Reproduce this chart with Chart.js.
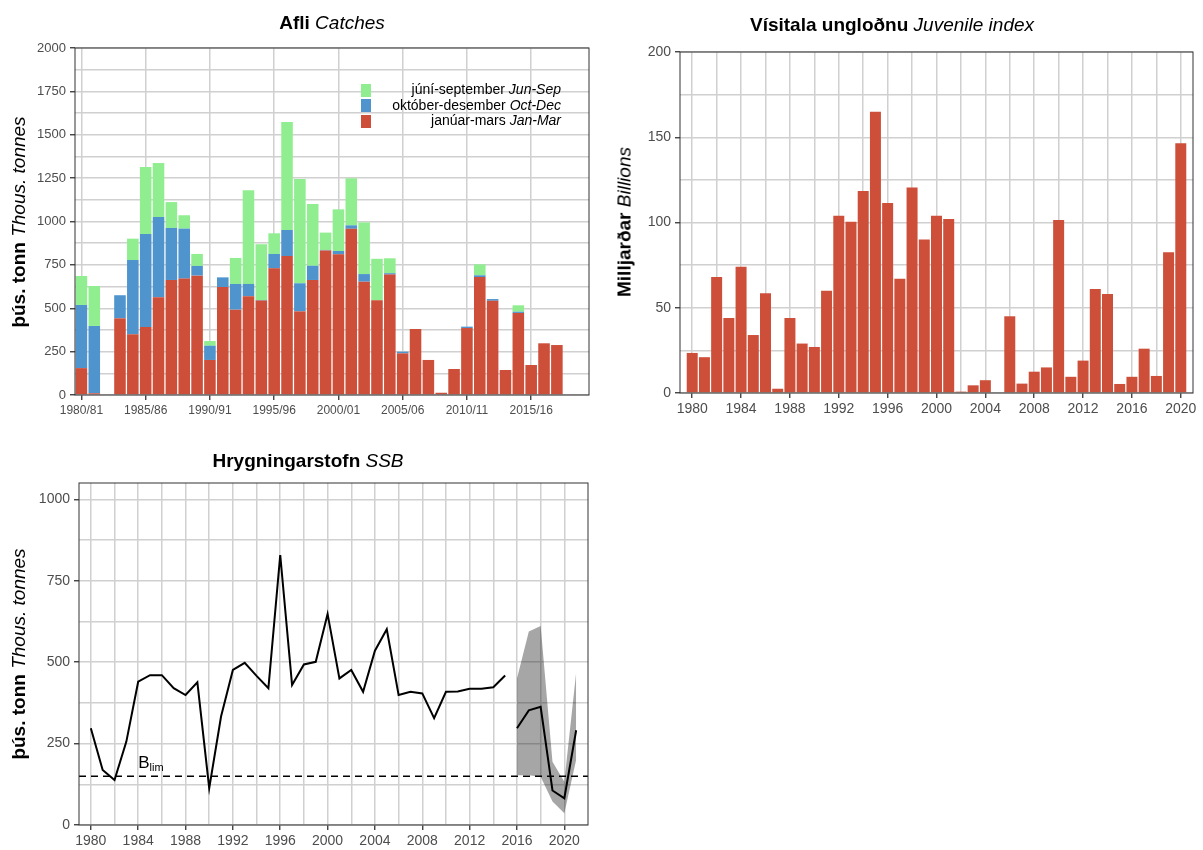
<!DOCTYPE html>
<html>
<head>
<meta charset="utf-8">
<script src="https://cdn.jsdelivr.net/npm/chart.js@4.4.1/dist/chart.umd.min.js"></script>
<style>
  body { margin: 0; background: #fff; font-family: "Liberation Sans", Arial, sans-serif; }
  #page { position: relative; width: 1203px; height: 850px; overflow: hidden; }
  canvas { position: absolute; }
  .ttl { position: absolute; white-space: nowrap; font-size: 19px; line-height: 1; transform: translate(-50%, -50%); color: #000; }
  .ytl { position: absolute; white-space: nowrap; font-size: 19px; line-height: 1; transform: translate(-50%, -50%) rotate(-90deg); color: #000; }
  .ttl b, .ytl b { font-weight: bold; }
  .ttl i, .ytl i { font-style: italic; font-weight: normal; }
  #legend { position: absolute; left: 361px; top: 82px; width: 200px; font-size: 14px; }
  #legend .row { position: relative; height: 15.5px; line-height: 15.5px; text-align: right; white-space: nowrap; }
  #legend .key { position: absolute; left: 0; top: 1.5px; width: 10px; height: 13px; }
</style>
</head>
<body>
<div id="page">
  <canvas id="catches" width="600" height="390" style="left:0;top:30px;width:600px;height:390px"></canvas>
  <canvas id="juvenile" width="603" height="390" style="left:600px;top:30px;width:603px;height:390px"></canvas>
  <canvas id="ssb" width="600" height="380" style="left:0;top:470px;width:600px;height:380px"></canvas>

  <div class="ttl" style="left:332px;top:22px"><b>Afli</b> <i>Catches</i></div>
  <div class="ttl" style="left:892px;top:24px"><b>Vísitala ungloðnu</b> <i>Juvenile index</i></div>
  <div class="ttl" style="left:308px;top:460px"><b>Hrygningarstofn</b> <i>SSB</i></div>

  <div class="ytl" style="left:18px;top:222px"><b>þús. tonn</b> <i>Thous. tonnes</i></div>
  <div class="ytl" style="left:624px;top:222px"><b>Milljarðar</b> <i>Billions</i></div>
  <div class="ytl" style="left:18px;top:654px"><b>þús. tonn</b> <i>Thous. tonnes</i></div>

  <div id="legend">
    <div class="row"><span class="key" style="background:#90ee90"></span>júní-september <i>Jun-Sep</i></div>
    <div class="row"><span class="key" style="background:#4f94cd"></span>október-desember <i>Oct-Dec</i></div>
    <div class="row"><span class="key" style="background:#cd4f39"></span>janúar-mars <i>Jan-Mar</i></div>
  </div>
</div>

<script>
// --- data: catches by season (thous. tonnes)
var seasons = ['1980/81', '1981/82', '1982/83', '1983/84', '1984/85', '1985/86', '1986/87', '1987/88',
  '1988/89', '1989/90', '1990/91', '1991/92', '1992/93', '1993/94', '1994/95', '1995/96', '1996/97',
  '1997/98', '1998/99', '1999/00', '2000/01', '2001/02', '2002/03', '2003/04', '2004/05', '2005/06',
  '2006/07', '2007/08', '2008/09', '2009/10', '2010/11', '2011/12', '2012/13', '2013/14', '2014/15',
  '2015/16', '2016/17', '2017/18', '2018/19', '2019/20'];
var janMar = [155, 10, 0, 442, 350, 392, 563, 663, 671, 688, 202, 622, 492, 569, 544, 730, 801, 482, 663, 833,
  811, 958, 653, 546, 694, 240, 380, 202, 13, 150, 386, 680, 543, 144, 473, 173, 298, 288, 0, 0];
var octDec = [364, 388, 0, 133, 428, 536, 463, 300, 288, 56, 82, 56, 148, 71, 3, 83, 150, 162, 82, 3,
  19, 20, 44, 0, 8, 10, 0, 0, 0, 0, 8, 10, 10, 0, 7, 0, 0, 0, 0, 0];
var junSep = [167, 230, 0, 0, 123, 386, 311, 149, 77, 69, 27, 0, 150, 540, 322, 119, 623, 601, 356, 100,
  240, 271, 298, 239, 86, 0, 0, 0, 0, 0, 0, 63, 0, 0, 37, 0, 0, 0, 0, 0];
var catchTicks = [0, 125, 250, 375, 500, 625, 750, 875, 1000, 1125, 1250, 1375, 1500, 1625, 1750, 1875, 2000];

// --- data: juvenile index (billions)
var juvYears = [1980, 1981, 1982, 1983, 1984, 1985, 1986, 1987, 1988, 1989, 1990, 1991, 1992, 1993, 1994,
  1995, 1996, 1997, 1998, 1999, 2000, 2001, 2002, 2003, 2004, 2005, 2006, 2007, 2008, 2009, 2010, 2011,
  2012, 2013, 2014, 2015, 2016, 2017, 2018, 2019, 2020];
var juvIndex = [23.5, 21, 68, 44, 74, 34, 58.5, 2.5, 44, 29, 27, 60, 104, 100.5, 118.5, 165, 111.5, 67, 120.5,
  90, 104, 102, 0.8, 4.5, 7.5, 0, 45, 5.5, 12.5, 15, 101.5, 9.5, 19, 61, 58, 5.3, 9.5, 26, 10, 82.5, 146.5];
var juvTicks = [0, 25, 50, 75, 100, 125, 150, 175, 200];

// --- data: spawning stock biomass (thous. tonnes)
var ssbYears = [1980, 1981, 1982, 1983, 1984, 1985, 1986, 1987, 1988, 1989, 1990, 1991, 1992, 1993, 1994,
  1995, 1996, 1997, 1998, 1999, 2000, 2001, 2002, 2003, 2004, 2005, 2006, 2007, 2008, 2009, 2010, 2011,
  2012, 2013, 2014, 2015];
var ssb = [297, 169, 138, 256, 440, 460, 460, 420, 399, 438, 113, 333, 476, 498, 458, 420, 829, 430, 493, 501,
  648, 450, 476, 409, 535, 601, 399, 409, 404, 328, 409, 410, 418, 418, 423, 459];
var projYears = [2016, 2017, 2018, 2019, 2020, 2021];
var projSsb = [297, 352, 363, 106, 82, 291];
var projHigh = [450, 594, 611, 194, 133, 468];
var projLow = [153, 153, 148, 72, 36, 200];
var blim = 150;
var ssbXTicks = [1980, 1982, 1984, 1986, 1988, 1990, 1992, 1994, 1996, 1998, 2000, 2002, 2004, 2006, 2008,
  2010, 2012, 2014, 2016, 2018, 2020];
var ssbYTicks = [0, 125, 250, 375, 500, 625, 750, 875, 1000];

var FONT = '"Liberation Sans", Arial, sans-serif';
var GRID = '#d0d0d0';
var INK = '#333333';
var LABEL = '#4d4d4d';
Chart.defaults.font.family = FONT;
Chart.defaults.animation = false;

var frame = {
  id: 'frame',
  afterDraw: function (chart) {
    var a = chart.chartArea, ctx = chart.ctx;
    ctx.save();
    ctx.strokeStyle = INK;
    ctx.lineWidth = 1;
    ctx.strokeRect(a.left, a.top, a.right - a.left, a.bottom - a.top);
    ctx.restore();
  }
};

function fixedTicks(list) {
  return function (scale) {
    scale.ticks = list.map(function (v) { return { value: v }; });
  };
}

function yAxis(min, max, list, major, size, width) {
  return {
    min: min, max: max,
    afterBuildTicks: fixedTicks(list),
    afterFit: function (s) { s.width = width; },
    border: { display: false },
    grid: {
      color: GRID, lineWidth: 1.5, tickLength: 5, tickWidth: 1.3,
      tickColor: function (c) { return c.tick && c.tick.value % major === 0 ? INK : 'rgba(0,0,0,0)'; }
    },
    ticks: {
      padding: 4, color: LABEL, font: { size: size },
      callback: function (v) { return v % major === 0 ? String(v) : ''; }
    }
  };
}

// ---- Catches
new Chart(document.getElementById('catches'), {
  type: 'bar',
  data: {
    labels: seasons,
    datasets: [
      { label: 'janúar-mars Jan-Mar', data: janMar, backgroundColor: '#cd4f39' },
      { label: 'október-desember Oct-Dec', data: octDec, backgroundColor: '#4f94cd' },
      { label: 'júní-september Jun-Sep', data: junSep, backgroundColor: '#90ee90' }
    ]
  },
  options: {
    responsive: false,
    layout: { padding: { top: 18, right: 11, left: 0, bottom: 0 } },
    plugins: { legend: { display: false }, tooltip: { enabled: false } },
    datasets: { bar: { categoryPercentage: 1, barPercentage: 0.9 } },
    scales: {
      x: {
        stacked: true, offset: true,
        afterFit: function (s) { s.height = 25; },
        border: { display: false },
        grid: {
          offset: false, lineWidth: 1.5, tickLength: 5, tickWidth: 1.3,
          color: function (c) { return c.index % 5 === 0 ? GRID : 'rgba(0,0,0,0)'; },
          tickColor: function (c) { return c.index % 5 === 0 ? INK : 'rgba(0,0,0,0)'; }
        },
        ticks: {
          autoSkip: false, maxRotation: 0, padding: 3, color: LABEL, font: { size: 12 },
          callback: function (v, i) { return i % 5 === 0 ? seasons[i] : ''; }
        }
      },
      y: Object.assign(yAxis(0, 2000, catchTicks, 250, 13, 75), { stacked: true })
    }
  },
  plugins: [frame]
});

// ---- Juvenile index (one empty category each side so the axis spans 1979-2021)
var juvLabels = [juvYears[0] - 1].concat(juvYears, [juvYears[juvYears.length - 1] + 1]);
var juvData = [null].concat(juvIndex, [null]);
new Chart(document.getElementById('juvenile'), {
  type: 'bar',
  data: {
    labels: juvLabels,
    datasets: [{ data: juvData, backgroundColor: '#cd4f39' }]
  },
  options: {
    responsive: false,
    layout: { padding: { top: 22, right: 10, left: 0, bottom: 0 } },
    plugins: { legend: { display: false }, tooltip: { enabled: false } },
    datasets: { bar: { categoryPercentage: 1, barPercentage: 0.9 } },
    scales: {
      x: {
        offset: false,
        afterFit: function (s) { s.height = 27; },
        border: { display: false },
        grid: {
          offset: false, lineWidth: 1.5, tickLength: 5, tickWidth: 1.3,
          color: function (c) { return juvLabels[c.index] % 2 === 0 ? GRID : 'rgba(0,0,0,0)'; },
          tickColor: function (c) { return juvLabels[c.index] % 4 === 0 ? INK : 'rgba(0,0,0,0)'; }
        },
        ticks: {
          autoSkip: false, maxRotation: 0, padding: 3, color: LABEL, font: { size: 14 },
          callback: function (v, i) { return juvLabels[i] % 4 === 0 ? String(juvLabels[i]) : ''; }
        }
      },
      y: yAxis(0, 200, juvTicks, 50, 14, 80)
    }
  },
  plugins: [frame]
});

// ---- SSB
var blimPlugin = {
  id: 'blim',
  afterDatasetsDraw: function (chart) {
    var a = chart.chartArea, ctx = chart.ctx;
    var xs = chart.scales.x, ys = chart.scales.y;
    var y = ys.getPixelForValue(blim);
    ctx.save();
    ctx.strokeStyle = '#000';
    ctx.lineWidth = 1.5;
    ctx.setLineDash([7, 5]);
    ctx.beginPath();
    ctx.moveTo(a.left, y);
    ctx.lineTo(a.right, y);
    ctx.stroke();
    ctx.setLineDash([]);
    ctx.fillStyle = '#000';
    ctx.textBaseline = 'alphabetic';
    ctx.font = '17px ' + FONT;
    var bx = xs.getPixelForValue(1984), by = ys.getPixelForValue(174);
    ctx.fillText('B', bx, by);
    var w = ctx.measureText('B').width;
    ctx.font = '11px ' + FONT;
    ctx.fillText('lim', bx + w, by + 3);
    ctx.restore();
  }
};

function pts(xs, ys) {
  return xs.map(function (x, i) { return { x: x, y: ys[i] }; });
}

new Chart(document.getElementById('ssb'), {
  type: 'line',
  data: {
    datasets: [
      { data: pts(projYears, projHigh), borderWidth: 0, pointRadius: 0, fill: '+1', backgroundColor: 'rgba(0,0,0,0.35)' },
      { data: pts(projYears, projLow), borderWidth: 0, pointRadius: 0, fill: false },
      { data: pts(ssbYears, ssb), borderColor: '#000', borderWidth: 2, pointRadius: 0, tension: 0, fill: false },
      { data: pts(projYears, projSsb), borderColor: '#000', borderWidth: 2, pointRadius: 0, tension: 0, fill: false }
    ]
  },
  options: {
    responsive: false,
    layout: { padding: { top: 13, right: 12, left: 0, bottom: 0 } },
    plugins: { legend: { display: false }, tooltip: { enabled: false } },
    scales: {
      x: {
        type: 'linear', min: 1979, max: 2022,
        afterBuildTicks: fixedTicks(ssbXTicks),
        afterFit: function (s) { s.height = 25; },
        border: { display: false },
        grid: {
          color: GRID, lineWidth: 1.5, tickLength: 5, tickWidth: 1.3,
          tickColor: function (c) { return c.tick && c.tick.value % 4 === 0 ? INK : 'rgba(0,0,0,0)'; }
        },
        ticks: {
          autoSkip: false, maxRotation: 0, minRotation: 0, padding: 3, color: LABEL, font: { size: 14 },
          callback: function (v) { return v % 4 === 0 ? String(v) : ''; }
        }
      },
      y: yAxis(0, 1050, ssbYTicks, 250, 14, 79)
    }
  },
  plugins: [blimPlugin, frame]
});
</script>
</body>
</html>
